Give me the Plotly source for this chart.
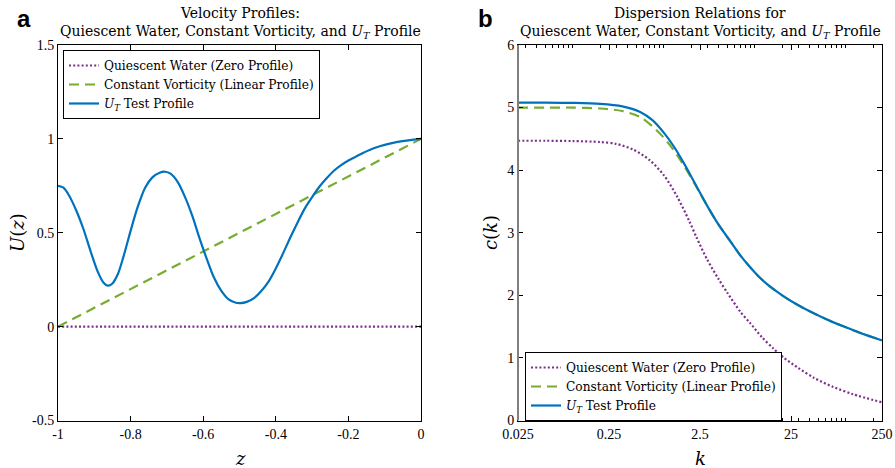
import numpy as np
import plotly.graph_objects as go

# ---------- data: panel a (velocity profiles) ----------
z_qw = [-1.0, 0.0]
u_qw = [0.0, 0.0]
z_cv = [-1.0, 0.0]
u_cv = [0.0, 1.0]
z_ut = [-1.0, -0.985, -0.97, -0.95, -0.93, -0.91, -0.89, -0.875, -0.863,
        -0.85, -0.835, -0.82, -0.80, -0.78, -0.76, -0.74, -0.72, -0.705, -0.69,
        -0.67, -0.65, -0.63, -0.61, -0.59, -0.57, -0.55, -0.53, -0.51, -0.497,
        -0.48, -0.46, -0.44, -0.42, -0.40, -0.38, -0.36, -0.34, -0.32, -0.30,
        -0.28, -0.26, -0.24, -0.22, -0.20, -0.18, -0.16, -0.14, -0.12, -0.10, -0.08,
        -0.06, -0.04, -0.02, 0.0]
u_ut = [0.75, 0.74, 0.70, 0.62, 0.52, 0.40, 0.29, 0.235, 0.218,
        0.23, 0.28, 0.37, 0.51, 0.64, 0.74, 0.795, 0.82, 0.825, 0.815,
        0.77, 0.69, 0.59, 0.47, 0.36, 0.26, 0.19, 0.145, 0.127, 0.125,
        0.132, 0.152, 0.19, 0.24, 0.31, 0.39, 0.475, 0.555, 0.63, 0.69,
        0.745, 0.79, 0.83, 0.86, 0.885, 0.905, 0.925, 0.942, 0.957, 0.968, 0.977,
        0.985, 0.991, 0.996, 1.0]

# ---------- data: panel b (dispersion relations) ----------
k_ut = [0.025, 0.05, 0.1, 0.2, 0.35, 0.55, 0.75, 1.0, 1.3, 1.65, 2.0, 2.5, 3.0, 4.0,
        5.35, 7.0, 9.0, 11.4, 15, 20, 25, 35, 48, 70, 100, 150, 250]
c_ut = [5.08, 5.08, 5.075, 5.06, 5.02, 4.93, 4.80, 4.60, 4.37, 4.12, 3.90, 3.64, 3.43, 3.13,
        2.87, 2.63, 2.44, 2.28, 2.13, 2.00, 1.91, 1.79, 1.69, 1.58, 1.49, 1.39, 1.28]
k_cv = [0.025, 0.05, 0.1, 0.2, 0.35, 0.55, 0.75, 1.0, 1.3, 1.65, 2.0, 2.5, 3.0, 4.0,
        5.35, 7.0, 9.0, 11.4, 15, 20, 25, 35, 48, 70, 100, 150, 250]
c_cv = [5.00, 5.00, 5.00, 4.985, 4.945, 4.85, 4.70, 4.52, 4.31, 4.08, 3.88, 3.63, 3.43, 3.13,
        2.87, 2.63, 2.44, 2.28, 2.13, 2.00, 1.91, 1.79, 1.69, 1.58, 1.49, 1.39, 1.28]
k_qw = [0.025, 0.05, 0.1, 0.2, 0.3, 0.46, 0.7, 1.0, 1.4, 1.9, 2.3, 3.0, 4.0, 5.0,
        7.0, 8.85, 12, 16, 20.6, 30, 45, 73, 120, 250]
c_qw = [4.47, 4.47, 4.465, 4.45, 4.42, 4.33, 4.16, 3.92, 3.58, 3.19, 2.92, 2.57, 2.26, 2.04,
        1.73, 1.56, 1.33, 1.15, 1.01, 0.84, 0.68, 0.535, 0.42, 0.29]

names = ["Quiescent Water (Zero Profile)",
         "Constant Vorticity (Linear Profile)",
         "<i>U<sub>T</sub></i> Test Profile"]

x_ticks_a = [-1, -0.8, -0.6, -0.4, -0.2, 0]
x_ticktext_a = ["-1", "-0.8", "-0.6", "-0.4", "-0.2", "0"]
y_ticks_a = [-0.5, 0, 0.5, 1, 1.5]
y_ticktext_a = ["-0.5", "0", "0.5", "1", "1.5"]
x_ticks_b = [0.025, 0.25, 2.5, 25, 250]
x_ticktext_b = ["0.025", "0.25", "2.5", "25", "250"]
y_ticks_b = [0, 1, 2, 3, 4, 5, 6]

PURPLE = "#7E2F8E"
GREEN = "#77AC30"
BLUE = "#0072BD"
TICKFONT = "Liberation Serif"
SERIF = "DejaVu Serif"
SANS = "Liberation Sans"

W, H = 895, 468
def px(x):
    return x / W
def py(y):
    return 1 - y / H

fig = go.Figure()

styles = [dict(color=PURPLE, width=2.2, dash="2px,2.2px"),
          dict(color=GREEN, width=2.2, dash="10px,6px"),
          dict(color=BLUE, width=2.2)]

for (zz, uu), nm, st in zip([(z_qw, u_qw), (z_cv, u_cv), (z_ut, u_ut)], names, styles):
    fig.add_trace(go.Scatter(x=zz, y=uu, mode="lines", name=nm,
                             line=dict(shape="spline", smoothing=0.8, **st),
                             xaxis="x", yaxis="y", legend="legend"))
for (kk, cc), nm, st in zip([(k_qw, c_qw), (k_cv, c_cv), (k_ut, c_ut)], names, styles):
    fig.add_trace(go.Scatter(x=kk, y=cc, mode="lines", name=nm,
                             line=dict(shape="spline", smoothing=0.8, **st),
                             xaxis="x2", yaxis="y2", legend="legend2"))

minor_vals = []
for e in range(-2, 3):
    for m in range(1, 10):
        v = m * 10.0 ** e
        if 0.025 < v < 250 and v not in x_ticks_b:
            minor_vals.append(v)

axis_common = dict(showline=True, linecolor="black", linewidth=1, mirror="ticks",
                   ticks="inside", ticklen=5, tickcolor="black", showgrid=False,
                   zeroline=False, automargin=False,
                   tickfont=dict(family=TICKFONT, size=14, color="black"))

ydom = [py(420.5), py(45)]
legend_common = dict(xanchor="left", yanchor="top", bordercolor="black", borderwidth=1,
                     bgcolor="white", font=dict(family=SERIF, size=12.2, color="black"),
                     itemwidth=30, tracegroupgap=0)
fig.update_layout(
    width=W, height=H, margin=dict(l=0, r=0, t=0, b=0),
    paper_bgcolor="white", plot_bgcolor="white",
    xaxis=dict(domain=[px(58), px(421)], range=[-1, 0], tickvals=x_ticks_a,
               ticktext=x_ticktext_a, anchor="y", ticklabelstandoff=1, **axis_common),
    yaxis=dict(domain=ydom, range=[-0.5, 1.5], tickvals=y_ticks_a,
               ticktext=y_ticktext_a, anchor="x", **axis_common),
    xaxis2=dict(domain=[px(518), px(882)], type="log",
                range=[np.log10(0.025), np.log10(250)], tickvals=x_ticks_b,
                ticktext=x_ticktext_b, anchor="y2", ticklabelstandoff=1,
                minor=dict(tickvals=minor_vals, ticks="inside", ticklen=3, tickcolor="black"),
                **axis_common),
    yaxis2=dict(domain=ydom, range=[0, 6], tickvals=y_ticks_b, anchor="x2", **axis_common),
    legend=dict(x=px(63), y=py(50), **legend_common),
    legend2=dict(x=px(525), y=py(352), **legend_common),
    showlegend=True,
    font=dict(family=SERIF, color="black"),
)

fig.add_shape(type="line", xref="x2 domain", yref="y2 domain", x0=0, x1=0, y0=0, y1=1,
              line=dict(color="#808080", width=2))

ann = []
def text(x, y, s, size=15, family=SERIF, **kw):
    ann.append(dict(x=px(x), y=py(y), xref="paper", yref="paper", text=s, showarrow=False,
                    font=dict(family=family, size=size, color="black"),
                    xanchor="center", yanchor="middle", **kw))

text(240, 13, "Velocity Profiles:", size=14)
text(240, 32, "Quiescent Water, Constant Vorticity, and <i>U<sub>T</sub></i> Profile", size=14)
text(700, 13, "Dispersion Relations for", size=14)
text(700, 32, "Quiescent Water, Constant Vorticity, and <i>U<sub>T</sub></i> Profile", size=14)
text(24, 19, "<b>a</b>", size=24, family=SANS)
text(485, 19, "<b>b</b>", size=24, family=SANS)
text(240, 458, "<i>z</i>", size=18)
text(700, 458, "<i>k</i>", size=18)
text(17, 233, "<i>U</i>(<i>z</i>)", size=18, textangle=-90)
text(490, 233, "<i>c</i>(<i>k</i>)", size=18, textangle=-90)
fig.update_layout(annotations=ann)

fig.write_html("out.html")
